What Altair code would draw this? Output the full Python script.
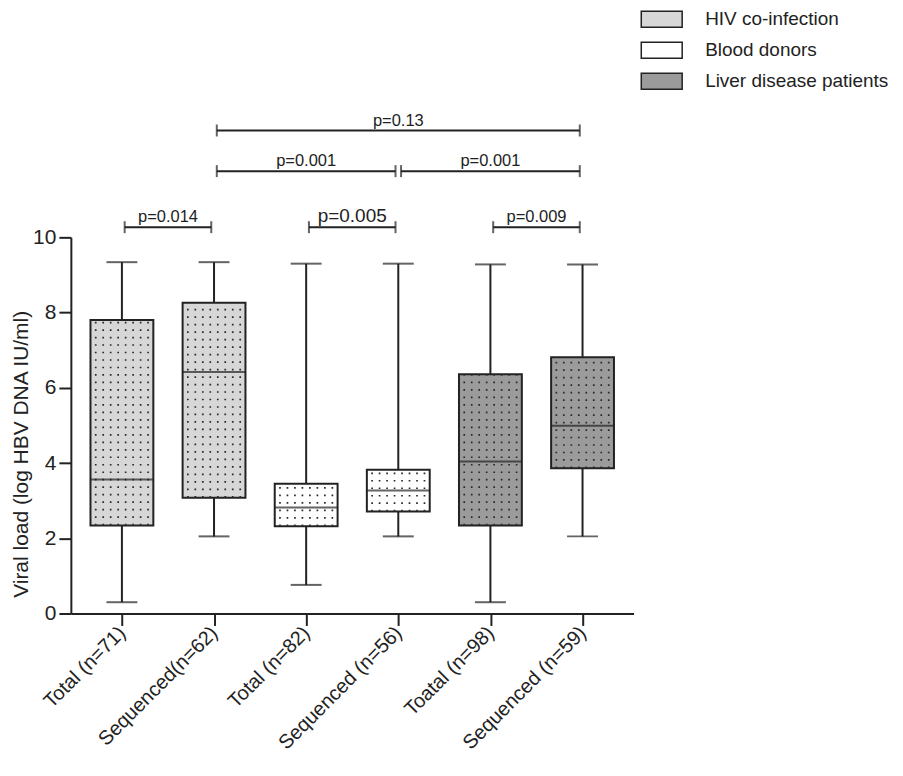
import json
import altair as alt
import pandas as pd

# ---------------- data ----------------
groups = ["Total (n=71)", "Sequenced(n=62)", "Total (n=82)",
          "Sequenced  (n=56)", "Toatal (n=98)", "Sequenced  (n=59)"]
cohort = ["HIV co-infection", "HIV co-infection", "Blood donors",
          "Blood donors", "Liver disease patients", "Liver disease patients"]
whisker_low = [0.30, 2.05, 0.76, 2.05, 0.30, 2.05]
q1 = [2.34, 3.08, 2.32, 2.71, 2.34, 3.86]
median = [3.56, 6.42, 2.82, 3.27, 4.04, 4.99]
q3 = [7.80, 8.26, 3.45, 3.82, 6.36, 6.81]
whisker_high = [9.34, 9.34, 9.30, 9.30, 9.28, 9.28]

cohorts = ["HIV co-infection", "Blood donors", "Liver disease patients"]
cohort_fill = ["#d7d7d7", "#ffffff", "#9b9b9b"]

bracket_from = [0, 2, 4, 1, 3, 1]
bracket_to = [1, 3, 5, 3, 5, 5]
bracket_level = [10.27, 10.27, 10.27, 11.76, 11.76, 12.84]
bracket_label = ["p=0.014", "p=0.005", "p=0.009", "p=0.001", "p=0.001", "p=0.13"]

y_title = "Viral load  (log HBV DNA IU/ml)"

# ---------------- style ----------------
FONT = "Liberation Sans, Arial, sans-serif"
INK = "#222222"
BOX_W = 63
CAP_W = 31
INSET = 0.03
DOT_OFFSETS = [-26.25, -18.75, -11.25, -3.75, 3.75, 11.25, 18.75, 26.25]

boxes = pd.DataFrame({
    "pos": list(range(len(groups))),
    "group": groups,
    "cohort": cohort,
    "low": whisker_low,
    "q1": q1,
    "median": median,
    "q3": q3,
    "high": whisker_high,
})
brackets = pd.DataFrame({
    "a": bracket_from,
    "b": bracket_to,
    "level": bracket_level,
    "label": bracket_label,
})

label_expr = json.dumps(groups) + "[datum.value]"

x_enc = alt.X(
    "pos:Q",
    scale=alt.Scale(domain=[-0.5, len(groups) - 0.5], nice=False, zero=False),
    axis=alt.Axis(
        values=list(range(len(groups))), labelExpr=label_expr, labelAngle=315,
        labelAlign="right", labelBaseline="middle",
        title=None, grid=False, tickSize=12, tickWidth=2, tickColor=INK,
        domainWidth=2, domainColor=INK, labelFontSize=20, labelFont=FONT,
        labelColor=INK, labelPadding=4, labelOverlap=False, labelLimit=400,
    ),
)
y_scale = alt.Scale(domain=[0, 10], nice=False)
y_axis = alt.Axis(
    values=list(range(0, 11)),
    labelExpr="datum.value % 2 === 0 ? datum.label : ''",
    title=y_title, titleFont=FONT, titleFontSize=21, titleFontWeight="normal",
    titleColor=INK, titleX=-49, titleY=217, titleAngle=270,
    titleBaseline="middle", titleAlign="center", titleLimit=600,
    grid=False, tickSize=12, tickWidth=2, tickColor=INK,
    domainWidth=2, domainColor=INK, labelFontSize=21, labelFont=FONT,
    labelColor=INK, labelPadding=3,
)

base = alt.Chart(boxes)

whisker = base.mark_rule(color=INK, strokeWidth=2).encode(
    x=x_enc, y=alt.Y("low:Q", scale=y_scale, axis=y_axis), y2="high:Q")

legend_symbol = "M-1.336,-0.52H1.336V0.52H-1.336Z"
box = base.mark_bar(size=BOX_W, stroke=INK, strokeWidth=2).encode(
    x="pos:Q", y="q1:Q", y2="q3:Q",
    fill=alt.Fill(
        "cohort:N",
        scale=alt.Scale(domain=cohorts, range=cohort_fill),
        legend=alt.Legend(
            title=None, orient="none", legendX=575.7, legendY=-235,
            symbolType=legend_symbol, symbolSize=942, symbolStrokeColor=INK,
            symbolStrokeWidth=1.5, labelFont=FONT, labelFontSize=19,
            labelColor=INK, labelOffset=27, rowPadding=3, padding=0,
            labelLimit=400,
        ),
    ),
)

dots = [
    base.mark_rule(xOffset=off, color="#2a2a2a", strokeWidth=1.7,
                   strokeDash=[1.7, 5.8], strokeCap="butt").encode(
        x="pos:Q", y="q1:Q", y2="q3:Q")
    for off in DOT_OFFSETS
]

med = base.mark_tick(orient="horizontal", size=BOX_W, thickness=2, color=INK).encode(
    x="pos:Q", y="median:Q")
cap_low = base.mark_tick(orient="horizontal", size=CAP_W, thickness=2, color=INK).encode(
    x="pos:Q", y="low:Q")
cap_high = base.mark_tick(orient="horizontal", size=CAP_W, thickness=2, color=INK).encode(
    x="pos:Q", y="high:Q")

bb = alt.Chart(brackets).transform_calculate(
    xa=f"datum.a + {INSET}", xb=f"datum.b - {INSET}", mid="(datum.a + datum.b) / 2")

br_line = bb.mark_rule(color=INK, strokeWidth=2).encode(
    x="xa:Q", x2="xb:Q", y="level:Q")
br_ends = bb.transform_fold(["xa", "xb"], as_=["end", "xe"]).mark_tick(
    orient="vertical", size=12, thickness=2, color=INK).encode(
    x="xe:Q", y="level:Q")
br_text = bb.mark_text(baseline="alphabetic", dy=-5, font=FONT, color=INK).encode(
    x="mid:Q", y="level:Q", text="label:N",
    size=alt.condition(alt.datum.label == "p=0.005", alt.value(19), alt.value(16.5)))

chart = alt.layer(
    whisker, box, *dots, med, cap_low, cap_high, br_line, br_ends, br_text
).properties(
    width=564, height=377,
    background="white",
    autosize=alt.AutoSizeParams(type="none"),
    padding={"left": 63, "top": 229, "right": 262, "bottom": 150},
).configure_view(strokeWidth=0, stroke="transparent")

chart.save("out.html", embed_options={"renderer": "svg", "actions": False})
